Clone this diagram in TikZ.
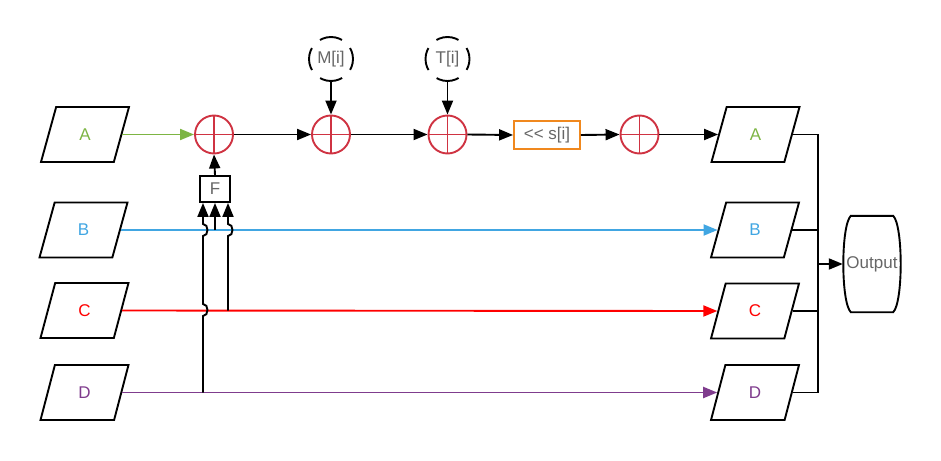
\documentclass[tikz,border=0pt]{standalone}
\usepackage{fontspec}
\setmainfont{Liberation Sans}
\usetikzlibrary{arrows.meta,shapes.geometric,calc}
\definecolor{cgreen}{HTML}{7DB543}
\definecolor{cblue}{HTML}{41A6E2}
\definecolor{cred}{HTML}{FF0000}
\definecolor{cpurple}{HTML}{7F3C8D}
\definecolor{csum}{HTML}{CF3342}
\definecolor{corange}{HTML}{F0881E}
\definecolor{cgray}{HTML}{666666}
\begin{document}
\begin{tikzpicture}[x=1pt,y=-1pt,font=\fontsize{17}{20}\selectfont,
  para/.style={trapezium, trapezium left angle=75.7, trapezium right angle=104.3,
    trapezium stretches=true, minimum width=88, minimum height=55,
    draw=black, line width=1.9, inner sep=0pt},
  sum/.style={circle, draw=csum, line width=1.9, minimum size=38, inner sep=0pt,
    path picture={\draw[csum, line width=1.5]
      (path picture bounding box.north) -- (path picture bounding box.south)
      (path picture bounding box.west) -- (path picture bounding box.east);}},
  param/.style={circle, draw=black, line width=1.9, minimum size=44, inner sep=0pt,
    text=cgray, dash pattern=on 23pt off 11.55pt, dash phase=11.5pt},
  conn/.style={line width=1.9, -{Triangle[length=14pt,width=11pt]}},
  plain/.style={line width=1.9}
]
\useasboundingbox (0,0) rectangle (941,460);

% left inputs
\node[para, text=cgreen]  (aL) at (85,134.5) {A};
\node[para, text=cblue]   (bL) at (83.5,230) {B};
\node[para, text=cred]    (cL) at (84.5,310.5) {C};
\node[para, text=cpurple] (dL) at (84.5,392.5) {D};

% right outputs
\node[para, text=cgreen]  (aR) at (755.5,134.5) {A};
\node[para, text=cblue]   (bR) at (755,230) {B};
\node[para, text=cred]    (cR) at (755,311) {C};
\node[para, text=cpurple] (dR) at (755,392.5) {D};

% sums and blocks
\node[sum] (s1) at (214,134.5) {};
\node[sum] (s2) at (331,134.5) {};
\node[sum] (s3) at (447.5,134.5) {};
\node[sum] (s4) at (639.5,134.5) {};
\node[draw=corange, line width=1.9, minimum width=66, minimum height=28, inner sep=0pt, text=cgray] (sh) at (547,135) {{<}{<} s[i]};
\node[draw=black, line width=1.9, minimum width=30, minimum height=26, inner sep=0pt, text=cgray] (F) at (215,189) {F};
\node[param] (M) at (331,59) {M[i]};
\node[param] (T) at (447.5,59) {T[i]};

% output
\node[minimum width=58, minimum height=96, inner sep=0pt, text=cgray] (out) at (872,264) {Output};
\draw[plain] ($(out.north west)+(8,0)$) -- ($(out.north east)+(-8,0)$)
  .. controls ($(out.north east)+(2,10)$) and ($(out.south east)+(2,-10)$) .. ($(out.south east)+(-8,0)$)
  -- ($(out.south west)+(8,0)$)
  .. controls ($(out.south west)+(-2,-10)$) and ($(out.north west)+(-2,10)$) .. cycle;

% main chain
\draw[conn, cgreen] (aL.right side) -- (s1.west);
\draw[conn] (s1.east) -- (s2.west);
\draw[conn] (s2.east) -- (s3.west);
\draw[conn] (s3.east) -- (sh.west);
\draw[conn] (sh.east) -- (s4.west);
\draw[conn] (s4.east) -- (aR.left side);
\draw[conn] (M.south) -- (s2.north);
\draw[conn] (T.south) -- (s3.north);
\draw[conn] (F.north) -- (s1.south);

% side lines
\draw[conn, cblue] (bL.right side) -- (bR.left side);
\draw[conn, cred] (cL.right side) -- (cR.left side);
\draw[conn, cpurple] (dL.right side) -- (dR.left side);

% taps into F
\coordinate (fD) at ($(F.south)+(-12,0)$);
\coordinate (fB) at ($(F.south)+(0,0)$);
\coordinate (fC) at ($(F.south)+(13,0)$);
\coordinate (tD) at (fD |- dL.right side);
\coordinate (tB) at (fB |- bL.right side);
\coordinate (tC) at (fC |- cL.right side);
\draw[conn] (tD) -- (203,316) .. controls (209,316) and (209,304) .. (203,304)
  -- (203,236) .. controls (209,236) and (209,224) .. (203,224) -- (fD);
\draw[conn] (tB) -- (fB);
\draw[conn] (tC) -- (228,236) .. controls (234,236) and (234,224) .. (228,224) -- (fC);

% merge to output
\coordinate (j) at (818,264);
\draw[plain] (aR.right side) -| (j);
\draw[plain] (bR.right side) -| (j);
\draw[plain] (cR.right side) -| (j);
\draw[plain] (dR.right side) -| (j);
\draw[conn] (j) -- (out.west);
\end{tikzpicture}
\end{document}
